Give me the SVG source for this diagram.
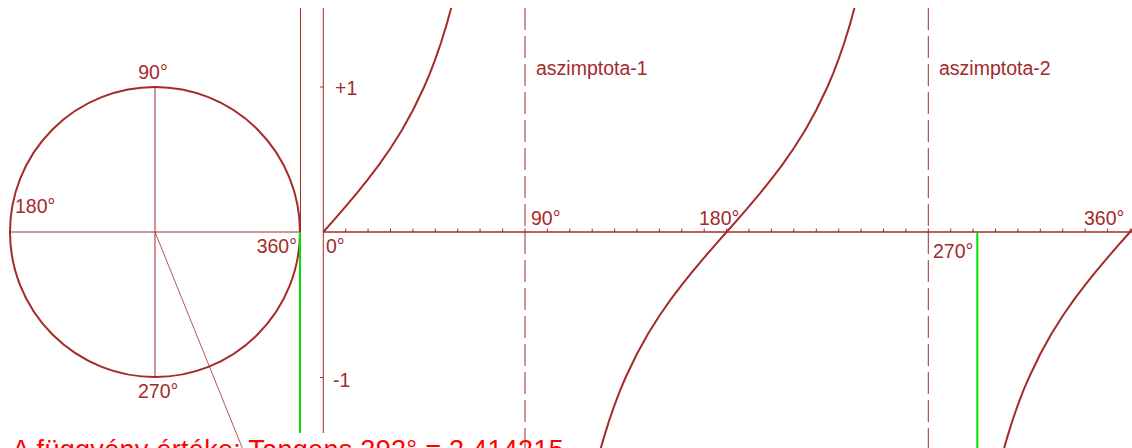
<svg xmlns="http://www.w3.org/2000/svg" width="1132" height="448" viewBox="0 0 1132 448">
<style>
.lbl{font-family:"Liberation Sans",Arial,sans-serif;font-size:19.5px;fill:#a52a2a}
.thin{stroke:#a52a2a;stroke-width:1;fill:none}
.curve{stroke:#a52a2a;stroke-width:2;fill:none;stroke-linejoin:round}
.asym{stroke:#a52a2a;stroke-width:1;fill:none;stroke-dasharray:22 6}
.green{stroke:#00e000;stroke-width:2;fill:none}
.result{font-family:"Liberation Sans",Arial,sans-serif;font-size:27px;letter-spacing:0.3px;fill:#ff0000}
</style>
<rect width="1132" height="448" fill="#ffffff"/>
<g id="unit-circle">
<circle cx="155" cy="232" r="145" stroke="#a52a2a" stroke-width="2" fill="none"/>
<line class="thin" x1="10" y1="232" x2="300" y2="232"/>
<line class="thin" x1="155" y1="87" x2="155" y2="377"/>
<text class="lbl" x="153" y="79" text-anchor="middle">90°</text>
<text class="lbl" x="15" y="213">180°</text>
<text class="lbl" x="297" y="252.5" text-anchor="end">360°</text>
<text class="lbl" x="138" y="397.5">270°</text>
</g>
<g id="tangent-line">
<line class="thin" x1="300.5" y1="8" x2="300.5" y2="232"/>
</g>
<g id="axes">
<line class="thin" x1="323.3" y1="8" x2="323.3" y2="433"/>
<path class="thin" d="M320 87H323.3M320 377.5H323.3"/>
<line x1="323" y1="232" x2="1132" y2="232" stroke="#a52a2a" stroke-width="1.5"/>
<path class="thin" d="M345.7 228.5V232M368.1 228.5V232M390.5 228.5V232M412.9 228.5V232M435.3 228.5V232M457.7 228.5V232M480.1 228.5V232M502.6 228.5V232M525 228.5V232M547.4 228.5V232M569.8 228.5V232M592.2 228.5V232M614.6 228.5V232M637 228.5V232M659.4 228.5V232M681.8 228.5V232M704.2 228.5V232M726.6 228.5V232M749 228.5V232M771.4 228.5V232M793.8 228.5V232M816.3 228.5V232M838.7 228.5V232M861.1 228.5V232M883.5 228.5V232M905.9 228.5V232M928.3 228.5V232M950.7 228.5V232M973.1 228.5V232M995.5 228.5V232M1017.9 228.5V232M1040.3 228.5V232M1062.7 228.5V232M1085.1 228.5V232M1107.6 228.5V232M1130 228.5V232"/>
<text class="lbl" x="335" y="95">+1</text>
<text class="lbl" x="333" y="386.5">-1</text>
<text class="lbl" x="326" y="252.5">0°</text>
<text class="lbl" x="531" y="224.5">90°</text>
<text class="lbl" x="699" y="224.5">180°</text>
<text class="lbl" x="933" y="258">270°</text>
<text class="lbl" x="1084" y="224.5">360°</text>
</g>
<g id="asymptote-1">
<line class="asym" x1="525" y1="8" x2="525" y2="448"/>
<text class="lbl" x="536" y="75">aszimptota-1</text>
</g>
<g id="asymptote-2">
<line class="asym" x1="928.3" y1="8" x2="928.3" y2="448"/>
<text class="lbl" x="939" y="75">aszimptota-2</text>
</g>
<g id="tangent-curve">
<polyline class="curve" points="323.3,232 334.5,219.3 345.7,206.4 356.9,193.1 368.1,179.2 379.3,164.4 390.5,148.3 401.7,130.5 412.9,110.3 424.1,87 429.7,73.8 435.3,59.2 440.9,43 446.5,24.9 451.2,7.9"/>
<polyline class="curve" points="600.8,448 603.4,439.1 609,421 614.6,404.8 620.2,390.2 625.8,377 637,353.7 648.2,333.5 659.4,315.7 670.6,299.6 681.8,284.8 693,270.9 704.2,257.6 715.4,244.7 726.6,232 737.8,219.3 749,206.4 760.2,193.2 771.4,179.2 782.6,164.4 793.8,148.3 805,130.5 816.2,110.3 827.4,87 833,73.8 838.6,59.2 844.2,43 849.8,24.9 854.5,7.9"/>
<polyline class="curve" points="1004.2,448 1006.7,439.1 1012.3,421 1017.9,404.8 1023.5,390.2 1029.2,377 1040.4,353.7 1051.6,333.5 1062.8,315.7 1074,299.6 1085.2,284.8 1096.4,270.9 1107.6,257.6 1118.8,244.7 1130,232 1134.5,226.9"/>
</g>
<g id="connectors">
<line x1="155" y1="232" x2="242.3" y2="448" stroke="#a52a2a" stroke-width="1" stroke-opacity="0.8"/>
<line class="green" x1="300" y1="232" x2="300" y2="433"/>
<line class="green" x1="977.3" y1="232" x2="977.3" y2="448"/>
</g>
<g id="result">
<text class="result" x="12" y="459">A függvény értéke: Tangens 292° = 2.414215</text>
</g>
</svg>
